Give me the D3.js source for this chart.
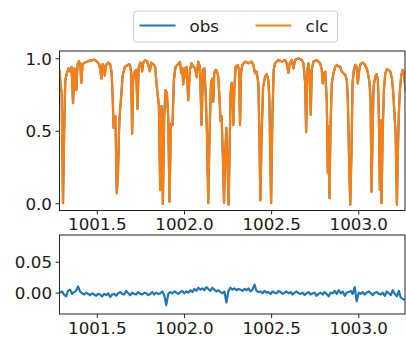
<!DOCTYPE html>
<html>
<head>
<meta charset="utf-8">
<script src="https://cdn.jsdelivr.net/npm/d3@7"></script>
<style>
  body { margin: 0; background: #fff; }
  svg { display: block; }
  text { font-family: "DejaVu Sans", sans-serif; }
  .domain, .tick line { stroke: #222; stroke-width: 1; }
</style>
</head>
<body>
<svg width="406" height="338"></svg>
<script>
// model spectrum [wavelength, flux]
const clcSpectrum = [
  [1001.2860,0.92],[1001.2929,0.80],[1001.2986,0.76],[1001.3061,0.0],[1001.3136,0.55],[1001.3193,0.85],
  [1001.3291,0.90],[1001.3377,0.93],[1001.3463,0.91],[1001.3550,0.94],[1001.3636,0.69],[1001.3722,0.93],
  [1001.3826,0.78],[1001.3894,0.96],[1001.3981,0.98],[1001.4050,0.96],[1001.4113,0.83],[1001.4182,0.96],
  [1001.4326,0.97],[1001.4498,0.98],[1001.4670,0.985],[1001.4843,0.99],[1001.4986,0.98],[1001.5130,0.96],
  [1001.5188,0.93],[1001.5262,0.86],[1001.5331,0.96],[1001.5389,0.95],[1001.5458,0.88],[1001.5532,0.95],
  [1001.5647,0.97],[1001.5762,0.96],[1001.5849,0.90],[1001.5906,0.75],[1001.5963,0.52],[1001.6021,0.55],
  [1001.6067,0.60],[1001.6147,0.07],[1001.6222,0.23],[1001.6262,0.45],[1001.6308,0.60],[1001.6412,0.76],
  [1001.6481,0.88],[1001.6607,0.94],[1001.6739,0.95],[1001.6854,0.96],
  [1001.6912,0.95],[1001.6969,0.90],[1001.7027,0.48],[1001.7084,0.85],[1001.7142,0.90],[1001.7257,0.92],
  [1001.7331,0.65],[1001.7400,0.93],[1001.7486,0.97],[1001.7561,0.96],[1001.7601,0.91],[1001.7659,0.97],
  [1001.7774,0.985],[1001.7889,0.98],[1001.8044,0.91],[1001.8119,0.97],[1001.8234,0.96],[1001.8349,0.94],
  [1001.8423,0.83],[1001.8492,0.75],[1001.8561,0.67],[1001.8636,0.09],[1001.8711,0.67],[1001.8791,-0.005],
  [1001.8866,0.60],[1001.8940,0.78],[1001.9021,0.76],[1001.9096,0.60],[1001.9170,0.01],[1001.9251,0.55],
  [1001.9343,0.54],[1001.9423,0.85],[1001.9515,0.94],[1001.9670,0.96],[1001.9768,0.975],[1001.9843,0.90],
  [1001.9900,0.93],[1001.9958,0.82],[1002.0015,0.93],[1002.0073,0.87],[1002.0147,0.94],[1002.0245,0.71],
  [1002.0343,0.92],[1002.0435,0.965],[1002.0550,0.94],[1002.0647,0.93],[1002.0734,0.87],[1002.0820,0.977],
  [1002.0917,0.94],[1002.1009,0.54],[1002.1090,0.92],[1002.1165,0.93],[1002.1239,0.78],[1002.1320,0.48],
  [1002.1394,0.0],[1002.1469,0.48],[1002.1550,0.83],[1002.1624,0.86],[1002.1682,0.70],[1002.1739,0.90],
  [1002.1814,0.92],[1002.1894,0.91],[1002.1969,0.87],[1002.2044,0.71],[1002.2101,0.57],[1002.2159,0.60],
  [1002.2239,0.30],[1002.2297,0.004],[1002.2354,0.30],[1002.2429,0.52],[1002.2504,0.25],[1002.2561,-0.01],
  [1002.2619,0.37],[1002.2676,0.76],[1002.2733,0.83],[1002.2791,0.78],[1002.2831,0.54],[1002.2889,0.78],
  [1002.2963,0.94],[1002.3078,0.954],[1002.3159,0.92],[1002.3216,0.54],[1002.3274,0.90],[1002.3349,0.954],
  [1002.3504,0.977],[1002.3693,0.965],[1002.3883,0.977],[1002.3981,0.954],[1002.4078,0.896],[1002.4170,0.908],
  [1002.4268,0.827],[1002.4326,0.48],[1002.4383,0.02],[1002.4458,0.48],[1002.4538,0.80],[1002.4653,0.873],
  [1002.4745,0.89],[1002.4843,0.85],[1002.4900,0.71],[1002.4998,0.0],[1002.5073,0.60],[1002.5147,0.92],
  [1002.5228,0.965],[1002.5417,0.988],[1002.5607,0.977],[1002.5802,0.988],[1002.5894,0.965],[1002.5992,0.90],
  [1002.6067,0.965],[1002.6182,0.988],[1002.6280,0.93],[1002.6377,0.988],[1002.6567,1.0],[1002.6757,0.988],
  [1002.6854,0.965],[1002.6952,0.827],[1002.7009,0.49],[1002.7084,0.919],[1002.7142,0.965],[1002.7216,0.873],
  [1002.7274,0.61],[1002.7331,0.919],[1002.7429,0.977],[1002.7619,0.988],[1002.7814,0.965],[1002.7906,0.919],
  [1002.7963,0.827],[1002.8021,0.896],[1002.8101,0.908],[1002.8193,0.712],[1002.8251,0.21],[1002.8291,0.53],
  [1002.8348,0.035],[1002.8406,0.53],[1002.8481,0.827],[1002.8578,0.896],[1002.8676,0.942],[1002.8768,0.954],
  [1002.8866,0.942],[1002.8963,0.942],[1002.9055,0.908],[1002.9153,0.896],[1002.9251,0.885],[1002.9343,0.85],
  [1002.9400,0.712],[1002.9481,0.252],[1002.9538,-0.01],[1002.9613,0.367],[1002.9670,0.827],[1002.9745,0.919],
  [1002.9825,0.954],[1002.9900,0.942],[1002.9975,0.827],[1003.0055,0.919],[1003.0130,0.96],[1003.0245,0.97],
  [1003.0360,0.96],[1003.0435,0.942],[1003.0515,0.919],[1003.0590,0.873],[1003.0647,0.827],[1003.0705,0.712],
  [1003.0762,0.08],[1003.0820,0.482],[1003.0877,0.804],[1003.0975,0.873],[1003.1050,0.89],[1003.1124,0.85],
  [1003.1182,0.597],[1003.1239,0.092],[1003.1280,0.574],[1003.1337,0.0],[1003.1395,0.482],[1003.1469,0.781],
  [1003.1550,0.896],[1003.1642,0.925],[1003.1739,0.919],[1003.1837,0.908],[1003.1929,0.862],[1003.2009,0.758],
  [1003.2084,0.597],[1003.2142,0.48],[1003.2216,-0.01],[1003.2274,0.367],[1003.2331,0.632],[1003.2389,0.781],
  [1003.2469,0.885],[1003.2544,0.919],[1003.2618,0.896],[1003.2699,0.80],[1003.2745,0.75]
];
// observed spectrum is indistinguishable from the model at this scale
const obsSpectrum = clcSpectrum;

// residuals (obs - clc) in units of 1e-3, sampled on an even wavelength grid
const residWlStart = 1001.289, residWlStep = 0.0115;
const residualMilli = [
  0, 2, -3, -6, 3, 5, -2, 1, 3, 10,
  2, -1, -3, 0, -2, -4, -1, -3, -5, -2,
  -3, -6, -2, -4, -1, -7, -3, -2, -5, -1,
  1, -2, -3, 3, -1, -4, 0, -2, -3, 1,
  -2, -3, 0, -1, -4, -2, 1, -3, 0, -2,
  -1, 2, -4, -20, -2, 1, -1, 2, 0, -2,
  1, 3, -1, 2, 0, 4, 1, 6, 3, 8,
  5, 7, 4, 9, 6, 3, 8, 5, 2, 4,
  1, -1, 2, -16, 3, 8, 5, 7, 4, 6,
  5, 3, 6, 4, 7, 2, 5, 13, 3, 1,
  2, -1, 3, 0, 1, -2, 2, 0, -1, 3,
  1, -2, 0, 2, -1, 1, -3, 0, 2, -1,
  -2, 0, -4, -1, 1, -3, -1, 0, -5, -2,
  0, -3, 1, -2, -6, 0, -1, 3, -2, 4,
  -1, 2, -5, 0, 1, 3, -2, 9, -14, 0,
  -2, 1, -3, 0, 2, -1, -4, 0, 1, -2,
  -3, 0, -5, 2, -1, -4, 4, -2, -6, 3,
  -8, -10, -12
];
const residualWl = d3.range(residualMilli.length).map(i => residWlStart + i * residWlStep);

const xTicks = [1001.5, 1002.0, 1002.5, 1003.0];
const topYTicks = [0.0, 0.5, 1.0];
const botYTicks = [0.0, 0.05];
const seriesNames = ["obs", "clc"];
const colors = { obs: "#1f77b4", clc: "#ff7f0e" };

const svg = d3.select("svg");
const left = 59.5, right = 405;
const fontSize = 16.7;

const x = d3.scaleLinear().domain([1001.286, 1003.268]).range([left, right]);
const yTop = d3.scaleLinear().domain([-0.05, 1.05]).range([210.5, 51]);
const yBot = d3.scaleLinear().domain([-0.0344, 0.0931]).range([314, 235]);

function panel(id, y, yTicks, fmt) {
  const [y0, y1] = y.range();
  svg.append("clipPath").attr("id", id).append("rect")
    .attr("x", left).attr("y", y1).attr("width", right - left).attr("height", y0 - y1);
  const g = svg.append("g");
  const lines = g.append("g").attr("clip-path", "url(#" + id + ")");
  g.append("g").attr("transform", "translate(0," + y0 + ")")
    .call(d3.axisBottom(x).tickValues(xTicks).tickFormat(d3.format(".1f")).tickSizeOuter(0).tickSize(4).tickPadding(4))
    .call(a => a.select(".domain").remove());
  g.append("g").attr("transform", "translate(" + left + ",0)")
    .call(d3.axisLeft(y).tickValues(yTicks).tickFormat(d3.format(fmt)).tickSizeOuter(0).tickSize(4).tickPadding(3.5))
    .call(a => a.select(".domain").remove())
    .selectAll("text").attr("dy", "0.35em");
  g.append("rect").attr("x", left).attr("y", y1).attr("width", right - left).attr("height", y0 - y1)
    .attr("fill", "none").attr("stroke", "#222").attr("stroke-width", 1);
  return lines;
}

const topLines = panel("clipTop", yTop, topYTicks, ".1f");
const botLines = panel("clipBot", yBot, botYTicks, ".2f");
svg.selectAll(".tick text")
  .attr("font-family", "DejaVu Sans, sans-serif")
  .attr("font-size", fontSize)
  .attr("fill", "#1a1a1a");

const specLine = d3.line().x(d => x(d[0])).y(d => yTop(d[1]));
topLines.append("path").datum(obsSpectrum).attr("d", specLine)
  .attr("fill", "none").attr("stroke", colors.obs).attr("stroke-width", 2.2).attr("stroke-linejoin", "round");
topLines.append("path").datum(clcSpectrum).attr("d", specLine)
  .attr("fill", "none").attr("stroke", colors.clc).attr("stroke-width", 2.2).attr("stroke-linejoin", "round");

const residLine = d3.line().x((d, i) => x(residualWl[i])).y(d => yBot(d / 1000));
botLines.append("path").datum(residualMilli).attr("d", residLine)
  .attr("fill", "none").attr("stroke", colors.obs).attr("stroke-width", 2.2).attr("stroke-linejoin", "round");

// legend
const lg = svg.append("g");
lg.append("rect").attr("x", 133.5).attr("y", 11).attr("width", 204).attr("height", 31).attr("rx", 3)
  .attr("fill", "#fff").attr("fill-opacity", 0.8).attr("stroke", "#ccc").attr("stroke-width", 1);
seriesNames.forEach((name, i) => {
  const x0 = 139.5 + i * 116;
  lg.append("line").attr("x1", x0).attr("x2", x0 + 36).attr("y1", 25.5).attr("y2", 25.5)
    .attr("stroke", colors[name]).attr("stroke-width", 2.2);
  lg.append("text").attr("x", x0 + 50).attr("y", 31.5).attr("font-family", "DejaVu Sans, sans-serif")
    .attr("font-size", fontSize).attr("fill", "#1a1a1a").text(name);
});
</script>
</body>
</html>
